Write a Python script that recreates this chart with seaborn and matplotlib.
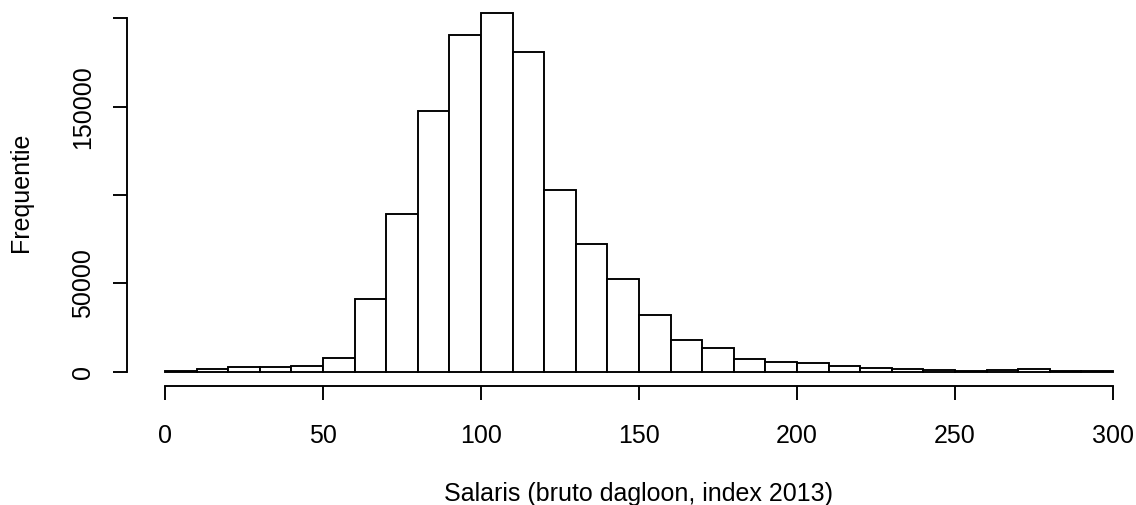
import numpy as np
import pandas as pd
import matplotlib
matplotlib.use("Agg")
import matplotlib.pyplot as plt
import seaborn as sns

# ---- data ----
bin_edges = list(range(0, 310, 10))
counts = [200, 1700, 2450, 2450, 3400, 7550, 41300, 89500, 147500, 190500,
          203300, 181200, 102800, 72300, 52600, 32100, 17900, 13400, 7200, 5650,
          5200, 3400, 1900, 1300, 750, 250, 750, 1300, 450, 450]
x_ticks = [0, 50, 100, 150, 200, 250, 300]
y_ticks = [0, 50000, 100000, 150000, 200000]
y_tick_labels = ["0", "50000", "", "150000", ""]
x_label = "Salaris (bruto dagloon, index 2013)"
y_label = "Frequentie"

centers = [(bin_edges[i] + bin_edges[i + 1]) / 2 for i in range(len(counts))]
df = pd.DataFrame({"salaris": centers, "n": counts})

sns.set_theme(style="white")
plt.rcParams["font.family"] = ["Liberation Sans", "DejaVu Sans"]

W, H, DPI = 1136, 505, 100
PT = 72.0 / DPI  # points per pixel
FS = 18
fig = plt.figure(figsize=(W / DPI, H / DPI), dpi=DPI)

# pixel anchors of the R-style plot region
xlim = (-12, 312)
ylim = (-8100, 211000)
px_x0, px_per_x = 165.0, 3.16          # pixel of x=0, pixels per unit
px_y0, px_per_y = 371.7, 1 / 566.0     # pixel (from top) of y=0
left_px = px_x0 + xlim[0] * px_per_x
right_px = px_x0 + xlim[1] * px_per_x
bottom_px = px_y0 - ylim[0] * px_per_y
top_px = px_y0 - ylim[1] * px_per_y
ax = fig.add_axes([left_px / W, 1 - bottom_px / H,
                   (right_px - left_px) / W, (bottom_px - top_px) / H])

lw = 1.9 * PT
sns.histplot(data=df, x="salaris", weights="n", bins=bin_edges, ax=ax,
             color="white", edgecolor="black", linewidth=lw, alpha=1.0)

ax.set_xlim(*xlim)
ax.set_ylim(*ylim)
for s in ("top", "right"):
    ax.spines[s].set_visible(False)
for s in ("left", "bottom"):
    ax.spines[s].set_color("black")
    ax.spines[s].set_linewidth(lw)
ax.spines["left"].set_bounds(0, 200000)
ax.spines["bottom"].set_bounds(0, 300)

ax.set_xticks(x_ticks)
ax.set_xticklabels([str(t) for t in x_ticks])
ax.set_yticks(y_ticks)
ax.set_yticklabels(y_tick_labels, rotation=90, va="center")
ax.tick_params(axis="both", direction="out", length=14 * PT, width=lw,
               color="black", labelsize=FS, labelcolor="black",
               left=True, bottom=True)
ax.tick_params(axis="x", pad=24 * PT)
ax.tick_params(axis="y", pad=18 * PT)
ax.grid(False)

ax.set_xlabel(x_label, fontsize=FS, color="black")
ax.set_ylabel(y_label, fontsize=FS, color="black")
# place labels at reference pixel positions
ax.xaxis.set_label_coords(((165 + 150 * 3.16) - left_px) / (right_px - left_px),
                          (bottom_px - 482) / (bottom_px - top_px), transform=ax.transAxes)
ax.xaxis.label.set_va("top")
ax.yaxis.set_label_coords((9 - left_px) / (right_px - left_px),
                          (bottom_px - 192) / (bottom_px - top_px), transform=ax.transAxes)
ax.yaxis.label.set_va("top")

fig.savefig("out.png", dpi=DPI, facecolor="white")
